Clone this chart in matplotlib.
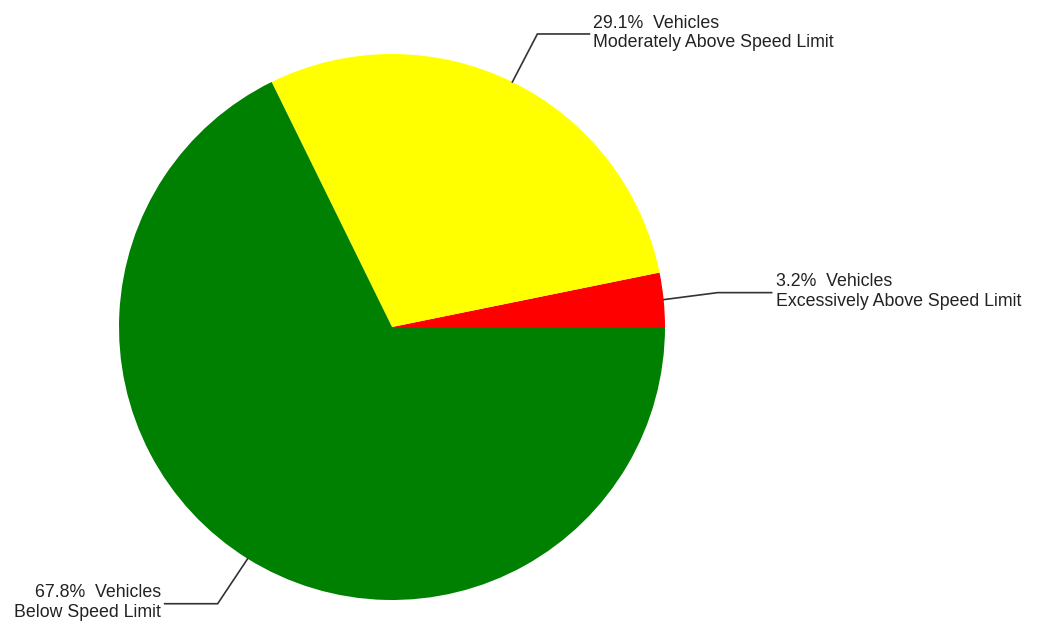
import numpy as np
import matplotlib
matplotlib.use("Agg")
import matplotlib.pyplot as plt

W, H = 1046, 625

categories = ["Excessively Above Speed Limit", "Moderately Above Speed Limit", "Below Speed Limit"]
shares = [3.2, 29.1, 67.8]
colors = ["#FF0000", "#FFFF00", "#008000"]

CENTER = (392, H - 327)
RADIUS = 273

# leader line elbow offsets (dx, dy from edge point) and horizontal run length
LEADERS = [
    ((54, 7), 54),
    ((25, 48), 52),
    ((-30, -45), -53),
]

fig = plt.figure(figsize=(W / 100, H / 100), dpi=100)
ax = fig.add_axes([0, 0, 1, 1])
wedges, _ = ax.pie(shares, colors=colors, startangle=0, counterclock=True,
                   center=CENTER, radius=RADIUS, wedgeprops=dict(linewidth=0))
ax.set_xlim(0, W)
ax.set_ylim(0, H)
ax.set_aspect("equal")
ax.axis("off")

for w, cat, val, (elbow, run) in zip(wedges, categories, shares, LEADERS):
    ang = np.deg2rad((w.theta1 + w.theta2) / 2)
    x0 = CENTER[0] + RADIUS * np.cos(ang)
    y0 = CENTER[1] + RADIUS * np.sin(ang)
    x1, y1 = x0 + elbow[0], y0 + elbow[1]
    x2 = x1 + run
    ax.plot([x0, x1, x2], [y0, y1, y1], color="#333333", lw=1.2, solid_joinstyle="miter")
    ha = "left" if run > 0 else "right"
    tx = x2 + (4 if run > 0 else -4)
    ax.text(tx, y1 + 1, f"{val:.1f}%  Vehicles\n{cat}", ha=ha, va="center",
            fontsize=12.8, family="Liberation Sans", color="#222222",
            linespacing=1.2, multialignment=ha)

fig.savefig("out.png", dpi=100)
